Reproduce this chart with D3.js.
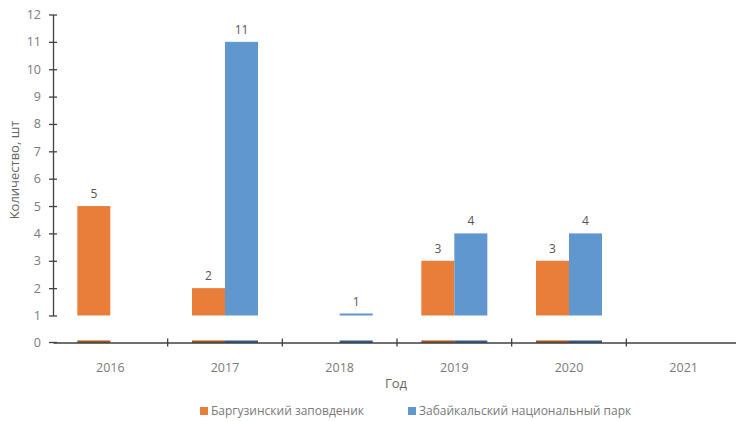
<!DOCTYPE html>
<html><head><meta charset="utf-8">
<script src="https://cdn.jsdelivr.net/npm/d3@7"></script>
<style>body{margin:0;background:#fff}svg{display:block}text{font-family:"Open Sans","Liberation Sans",sans-serif}</style>
</head><body><svg id="c" width="736" height="421"></svg>
<script>
const years = ["2016","2017","2018","2019","2020","2021"];
const seriesNames = ["Баргузинский заповденик","Забайкальский национальный парк"];
const barguzin = [5,2,null,3,3,null];
const zabaikal = [null,11,1,4,4,null];
const yTicks = [1,2,3,4,5,6,7,8,9,10,11,12];
const colors = ["#E97E3B","#5F97CE"];
const darkColors = ["#A4521F","#2F5B8C"];
const textCol = "#7a7a7a";
const valCol = "#555555";

const svg = d3.select("#c");
const x = d3.scaleBand().domain(years).range([53,741]);
const inner = d3.scaleBand().domain([0,1]).range([0,66]);
const yTop = d3.scaleLinear().domain([1,12]).range([315.5,14.5]);
const yZero = 342.5;

const series = [barguzin, zabaikal];
const groupOff = (x.bandwidth()-66)/2;

series.forEach((vals,si)=>{
  const data = years.map((y,i)=>({y, v: vals[i]})).filter(d=>d.v!=null);
  svg.append("g").selectAll("rect").data(data).join("rect")
    .attr("x", d=>x(d.y)+groupOff+inner(si))
    .attr("width", inner.bandwidth())
    .attr("y", d=> d.v>1 ? yTop(d.v) : yTop(1)-2)
    .attr("height", d=> d.v>1 ? yTop(1)-yTop(d.v) : 2)
    .attr("fill", colors[si]);
  svg.append("g").selectAll("rect").data(data).join("rect")
    .attr("x", d=>x(d.y)+groupOff+inner(si))
    .attr("width", inner.bandwidth())
    .attr("y", yZero-2)
    .attr("height", 2.5)
    .attr("fill", darkColors[si]);
  svg.append("g").selectAll("text").data(data).join("text")
    .attr("x", d=>x(d.y)+groupOff+inner(si)+inner.bandwidth()/2)
    .attr("y", d=> (d.v>1 ? yTop(d.v) : yTop(1)-2) - 8)
    .attr("text-anchor","middle").attr("font-size",12).attr("fill",valCol)
    .text(d=>d.v);
});

const yAx = svg.append("g").attr("transform","translate(53,0)")
  .call(d3.axisLeft(yTop).tickValues(yTicks).tickSize(4).tickSizeOuter(0));
yAx.select(".domain").attr("stroke","#404040").attr("stroke-width",1.3);
yAx.selectAll(".tick line").attr("stroke","#404040").attr("x2",4).attr("x1",-4).attr("stroke-width",1.3);
yAx.selectAll(".tick text").attr("x",-12).attr("fill",textCol).attr("font-size",12.5)
  .attr("font-family","'Open Sans','Liberation Sans',sans-serif");

svg.append("line").attr("x1",49).attr("x2",57).attr("y1",yZero).attr("y2",yZero).attr("stroke","#404040").attr("stroke-width",1.3);
svg.append("text").attr("x",41).attr("y",yZero+4).attr("text-anchor","end").attr("font-size",12.5).attr("fill",textCol).text("0");

const xAx = svg.append("g").attr("transform",`translate(0,${yZero})`)
  .call(d3.axisBottom(x).tickSize(0).tickSizeOuter(0));
xAx.select(".domain").attr("stroke","#404040").attr("stroke-width",1.3);
xAx.selectAll(".tick text").attr("dy","2.1em").attr("fill",textCol).attr("font-size",12.5)
  .attr("font-family","'Open Sans','Liberation Sans',sans-serif");
svg.append("g").selectAll("line").data(years.slice(1)).join("line")
  .attr("x1",d=>x(d)).attr("x2",d=>x(d)).attr("y1",yZero-4).attr("y2",yZero+4)
  .attr("stroke","#404040").attr("stroke-width",1.3);

svg.append("text").attr("transform","translate(19,170) rotate(-90)").attr("text-anchor","middle")
  .attr("font-size",13).attr("fill","#666").text("Количество, шт");
svg.append("text").attr("x",396).attr("y",388).attr("text-anchor","middle")
  .attr("font-size",13).attr("fill","#666").text("Год");

const legX = [200, 408];
seriesNames.forEach((n,i)=>{
  svg.append("rect").attr("x",legX[i]).attr("y",407).attr("width",8).attr("height",8).attr("fill",colors[i]);
  svg.append("text").attr("x",legX[i]+11).attr("y",415).attr("font-size",12).attr("fill",textCol).text(n);
});
</script></body></html>
